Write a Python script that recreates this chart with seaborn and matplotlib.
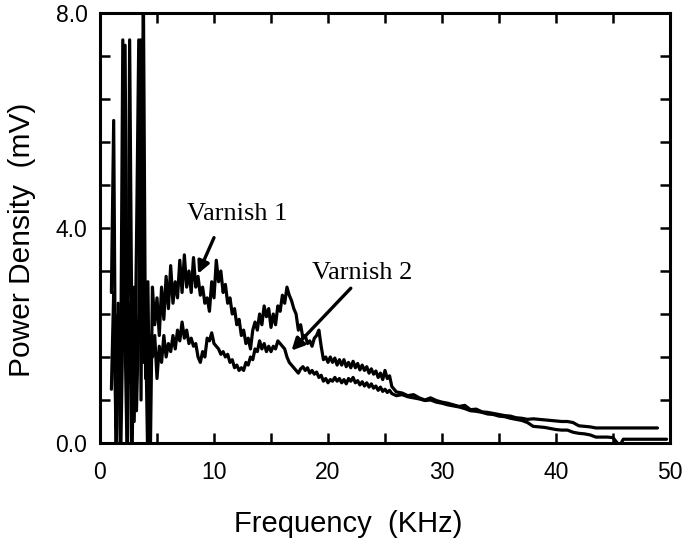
import numpy as np
import pandas as pd
import matplotlib
matplotlib.use("Agg")
import matplotlib.pyplot as plt
import seaborn as sns
from matplotlib.ticker import MultipleLocator, FixedLocator

# ---------------- data ----------------
# dense part: 1.0 ... 26.0 kHz, every 0.2 kHz
f_start = 1.0
f_step = 0.2
varnish1_dense = [
    2.8, 6.0, -0.5, 2.4, 0.8, 7.5, 2.0, -0.5, 7.5, 1.8,      # 1.0-2.8
    0.4, 3.7, 7.5, 0.8, 8.6, 1.2, 3.0, -0.5, 2.9, 2.2,       # 3.0-4.8
    2.7, 2.0, 2.9, 2.3, 3.1, 2.5, 3.3, 2.6, 3.0, 2.7,        # 5.0-6.8
    3.4, 2.8, 3.5, 2.9, 3.2, 2.8, 3.45, 2.9, 3.1, 2.75,      # 7.0-8.8
    2.9, 2.6, 2.7, 2.45, 3.0, 2.7, 3.4, 3.0, 3.2, 2.8,       # 9.0-10.8
    2.95, 2.6, 2.7, 2.4, 2.5, 2.2, 2.3, 2.0, 2.1, 1.85,      # 11.0-12.8
    1.95, 1.75, 2.1, 2.25, 2.1, 2.4, 2.2, 2.55, 2.35, 2.5,   # 13.0-14.8
    2.15, 2.4, 2.2, 2.55, 2.45, 2.75, 2.6, 2.9, 2.75, 2.65,  # 15.0-16.8
    2.5, 2.4, 2.1, 2.2, 1.95, 2.0, 1.85, 1.9, 1.8, 1.95,     # 17.0-18.8
    2.0, 2.1, 1.8, 1.55, 1.6, 1.5, 1.6, 1.5, 1.58, 1.45,     # 19.0-20.8
    1.55, 1.45, 1.55, 1.42, 1.5, 1.4, 1.52, 1.4, 1.48, 1.36, # 21.0-22.8
    1.45, 1.35, 1.42, 1.3, 1.38, 1.28, 1.34, 1.22, 1.3, 1.18,# 23.0-24.8
    1.35, 1.2, 1.25, 1.05, 1.0, 0.95,                        # 25.0-26.0
]
varnish2_dense = [
    1.0, 2.8, 0.3, 2.6, -0.5, 2.2, 7.4, 1.0, 2.6, -0.5,      # 1.0-2.8
    2.9, 0.6, 2.4, 7.5, 1.5, 2.2, -0.5, 2.0, 1.6, 2.0,       # 3.0-4.8
    1.2, 1.8, 1.5, 2.0, 1.6, 1.85, 1.7, 2.0, 1.75, 2.1,      # 5.0-6.8
    1.9, 2.25, 1.95, 2.1, 1.85, 1.95, 1.8, 1.85, 1.6, 1.5,   # 7.0-8.8
    1.7, 1.6, 1.95, 1.9, 2.05, 1.85, 1.8, 1.75, 1.65, 1.7,   # 9.0-10.8
    1.6, 1.65, 1.5, 1.55, 1.4, 1.45, 1.35, 1.4, 1.35, 1.5,   # 11.0-12.8
    1.45, 1.6, 1.55, 1.75, 1.7, 1.9, 1.75, 1.85, 1.7, 1.8,   # 13.0-14.8
    1.7, 1.8, 1.75, 1.9, 1.85, 1.8, 1.75, 1.6, 1.5, 1.45,    # 15.0-16.8
    1.4, 1.35, 1.3, 1.38, 1.42, 1.35, 1.4, 1.3, 1.35, 1.28,  # 17.0-18.8
    1.32, 1.22, 1.26, 1.15, 1.2, 1.12, 1.18, 1.15, 1.22, 1.15,  # 19.0-20.8
    1.2, 1.12, 1.18, 1.1, 1.2, 1.15, 1.22, 1.12, 1.16, 1.08, # 21.0-22.8
    1.14, 1.06, 1.12, 1.04, 1.1, 1.02, 1.06, 0.98, 1.04, 0.96,  # 23.0-24.8
    1.0, 0.94, 0.98, 0.92, 0.9, 0.88,                        # 25.0-26.0
]

# tail part
varnish1_tail_f = [26.5, 27.0, 27.5, 28.0, 28.5, 29.0, 29.5, 30.0, 30.5, 31.0,
                   31.5, 32.0, 32.5, 33.0, 33.5, 34.0, 34.5, 35.0, 35.5, 36.0,
                   36.5, 37.0, 37.5, 38.0, 38.5, 39.0, 39.5, 40.0, 40.5, 41.0,
                   41.5, 42.0, 42.5, 43.0, 43.5, 48.9]
varnish1_tail_v = [0.93, 0.88, 0.90, 0.84, 0.80, 0.84, 0.79, 0.76, 0.74, 0.71,
                   0.68, 0.70, 0.62, 0.63, 0.58, 0.57, 0.55, 0.53, 0.51, 0.50,
                   0.47, 0.46, 0.44, 0.45, 0.44, 0.43, 0.42, 0.41, 0.40, 0.40,
                   0.38, 0.32, 0.31, 0.30, 0.28, 0.28]
varnish2_tail_f = [26.5, 27.0, 27.5, 28.0, 28.5, 29.0, 29.5, 30.0, 30.5, 31.0,
                   31.5, 32.0, 32.5, 33.0, 33.5, 34.0, 34.5, 35.0, 35.5, 36.0,
                   36.5, 37.0, 37.5, 38.0, 38.5, 39.0, 39.5, 40.0, 40.5, 41.0,
                   41.5, 42.0, 42.5, 43.0, 43.5, 44.0, 44.5, 45.0, 45.3, 45.6,
                   45.9, 49.7]
varnish2_tail_v = [0.90, 0.86, 0.84, 0.82, 0.79, 0.80, 0.76, 0.74, 0.71, 0.69,
                   0.67, 0.64, 0.60, 0.59, 0.57, 0.54, 0.53, 0.50, 0.49, 0.46,
                   0.44, 0.42, 0.38, 0.31, 0.30, 0.29, 0.27, 0.25, 0.24, 0.24,
                   0.20, 0.18, 0.17, 0.15, 0.11, 0.11, 0.11, 0.10, 0.02, -0.05,
                   0.07, 0.07]

x_ticks_major = [0, 10, 20, 30, 40, 50]
y_ticks_major = [0.0, 4.0, 8.0]
y_tick_labels = ["0.0", "4.0", "8.0"]

# ---------------- build table ----------------
def series(dense, tf, tv, name):
    f = list(np.round(f_start + f_step * np.arange(len(dense)), 2)) + list(tf)
    v = list(dense) + list(tv)
    return pd.DataFrame({"freq": f, "power": v, "series": name})

df = pd.concat([series(varnish1_dense, varnish1_tail_f, varnish1_tail_v, "Varnish 1"),
                series(varnish2_dense, varnish2_tail_f, varnish2_tail_v, "Varnish 2")],
               ignore_index=True)

# ---------------- plot ----------------
sns.set_theme(style="ticks")
plt.rcParams['font.family'] = ['Liberation Sans', 'DejaVu Sans']

fig = plt.figure(figsize=(6.84, 5.48), dpi=100)
ax = fig.add_axes([100/684, 1 - 443/548, 570/684, 430/548])

sns.lineplot(data=df, x="freq", y="power", units="series", estimator=None,
             color="black", linewidth=2.3, sort=False, ax=ax, legend=False)

ax.set_xlim(0, 50)
ax.set_ylim(0, 8.0)

ax.xaxis.set_major_locator(FixedLocator(x_ticks_major))
ax.xaxis.set_minor_locator(MultipleLocator(5))
ax.yaxis.set_major_locator(FixedLocator(y_ticks_major))
ax.set_yticklabels(y_tick_labels)
ax.yaxis.set_minor_locator(MultipleLocator(0.8))

ax.tick_params(which="both", direction="in", top=True, right=True,
               length=7, width=1.8, color="black")
ax.tick_params(axis="both", labelsize=16.5, pad=9, labelcolor="black")
ax.tick_params(axis="x", pad=13)

for s in ax.spines.values():
    s.set_linewidth(2.2)
    s.set_color("black")

ax.set_xlabel("Frequency  (KHz)", fontsize=21, labelpad=16, color="black")
ax.xaxis.set_label_coords(0.435, -0.155)
ax.set_ylabel("Power Density  (mV)", fontsize=21.5, labelpad=12, color="black")
ax.yaxis.set_label_coords(-0.112, 0.472)

serif = ["Liberation Serif", "DejaVu Serif"]
arrow = dict(arrowstyle="-|>", color="black", lw=2.4, mutation_scale=18,
             shrinkA=0, shrinkB=0)
ax.annotate("", xy=(8.6, 3.15), xytext=(10.0, 3.82), arrowprops=arrow)
ax.text(12.0, 4.26, "Varnish 1", family=serif, fontsize=19, ha="center",
        va="center", color="black")
ax.annotate("", xy=(16.8, 1.72), xytext=(22.0, 2.88), arrowprops=arrow)
ax.text(23.0, 3.16, "Varnish 2", family=serif, fontsize=19, ha="center",
        va="center", color="black")

fig.savefig("out.png", dpi=100)
